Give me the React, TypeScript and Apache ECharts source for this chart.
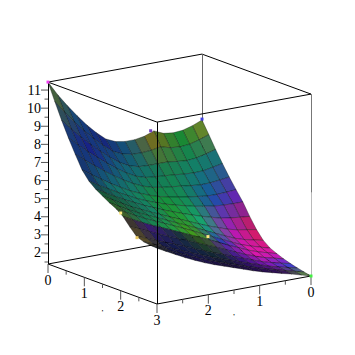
import React, { useEffect, useRef } from "react";
import * as echarts from "echarts";

// Surface heights z(a, b): one row per a = k*3/16, one value per b = l*3/16
const rowA00 = [7.8,7.58,7.43,7.38,7.45,7.68,7.48,7.39,7.39,7.48,7.72,8.17,8.7,9.3,9.95,10.65,11.44];
const rowA01 = [7.13,6.94,6.79,6.74,6.79,6.94,6.84,6.8,6.81,6.93,7.18,7.6,8.09,8.62,9.2,9.82,10.5];
const rowA02 = [6.45,6.3,6.17,6.12,6.17,6.24,6.24,6.24,6.27,6.42,6.7,7.08,7.52,7.99,8.49,9.03,9.6];
const rowA03 = [5.81,5.7,5.6,5.58,5.61,5.67,5.71,5.75,5.81,5.98,6.26,6.6,6.99,7.4,7.83,8.29,8.77];
const rowA04 = [5.2,5.13,5.07,5.06,5.11,5.18,5.24,5.31,5.4,5.57,5.81,6.1,6.44,6.8,7.18,7.58,8];
const rowA05 = [4.64,4.6,4.57,4.58,4.65,4.72,4.81,4.91,5.03,5.2,5.41,5.64,5.93,6.23,6.57,6.92,7.28];
const rowA06 = [4.1,4.1,4.12,4.16,4.25,4.34,4.47,4.6,4.75,4.93,5.13,5.35,5.62,5.89,6.18,6.48,6.8];
const rowA07 = [3.44,3.49,3.55,3.63,3.78,3.93,4.1,4.28,4.47,4.67,4.89,5.11,5.37,5.62,5.9,6.19,6.49];
const rowA08 = [2.85,2.94,3.03,3.16,3.35,3.53,3.75,3.97,4.2,4.42,4.65,4.88,5.12,5.36,5.65,5.95,6.25];
const rowA09 = [2.39,2.51,2.63,2.8,3.03,3.27,3.51,3.76,4,4.23,4.47,4.7,4.94,5.17,5.43,5.72,6.02];
const rowA10 = [2.1,2.25,2.41,2.58,2.82,3.07,3.32,3.57,3.82,4.06,4.3,4.53,4.76,4.99,5.25,5.53,5.82];
const rowA11 = [1.93,2.08,2.23,2.42,2.65,2.88,3.13,3.37,3.61,3.84,4.08,4.31,4.54,4.76,5.01,5.27,5.54];
const rowA12 = [1.78,1.92,2.05,2.22,2.42,2.64,2.87,3.1,3.32,3.54,3.76,3.98,4.19,4.41,4.65,4.89,5.1];
const rowA13 = [1.66,1.78,1.91,2.06,2.25,2.45,2.64,2.84,3.04,3.25,3.46,3.67,3.88,4.09,4.3,4.52,4.71];
const rowA14 = [1.56,1.68,1.81,1.95,2.13,2.3,2.48,2.67,2.85,3.05,3.25,3.46,3.68,3.89,4.11,4.33,4.56];
const rowA15 = [1.47,1.61,1.75,1.89,2.04,2.19,2.36,2.54,2.72,2.91,3.1,3.32,3.54,3.77,4.01,4.26,4.5];
const rowA16 = [1.39,1.54,1.69,1.82,1.96,2.1,2.26,2.44,2.62,2.8,2.98,3.18,3.41,3.65,3.92,4.19,4.47];
const zGrid = [rowA00,rowA01,rowA02,rowA03,rowA04,rowA05,rowA06,rowA07,rowA08,rowA09,rowA10,rowA11,rowA12,rowA13,rowA14,rowA15,rowA16];
const CELLS = 16;
const STEP = 3 / CELLS;

const aTicks = [0, 1, 2, 3];
const bTicks = [0, 1, 2];
const zTicks = [2, 3, 4, 5, 6, 7, 8, 9, 10, 11];
const aMinor = [0.5, 1.5, 2.5];
const bMinor = [0.5, 1.5, 2.5];
const zMinor = [1.5, 2.5, 3.5, 4.5, 5.5, 6.5, 7.5, 8.5, 9.5, 10.5];
const Z_MIN = 1.39;
const Z_MAX = 11.44;

// Surface shading, sampled on a coarse (a, b) lattice
const shadeA = [0, 0.5, 1, 1.5, 2, 2.125, 2.5, 3];
const shadeB = [0, 0.5, 1, 1.5, 2, 2.5, 3];
const shadeTable = [
  ["#8a8a14","#148a28","#8a6a10","#14527a","#16187c","#144f78","#5a7020"],
  ["#146c80","#12806a","#148050","#127068","#145c7c","#181e88","#163c78"],
  ["#6a20b8","#1650a8","#148a58","#169038","#148060","#126e70","#162a6c"],
  ["#d81c4c","#b018b8","#18a878","#269a24","#148068","#186040","#166028"],
  ["#d818a8","#e018a8","#3030c0","#4a9a14","#209a40","#147a58","#4a5a20"],
  ["#c818b8","#e018a8","#6024b0","#34601a","#1a3040","#3a1a78","#3a3a20"],
  ["#3040d8","#8a18c0","#3a1480","#102a30","#14204a","#141a50","#6a5a20"],
  ["#70a830","#201040","#200c40","#1c0c3a","#20104a","#141240","#14222e"],
];

const markers = [
  { a: 0, b: 3, z: 11.44, color: "#f040f0" },
  { a: 0, b: 1, z: 7.72, color: "#7040c0" },
  { a: 0, b: 0, z: 7.85, color: "#4040e0" },
  { a: 3, b: 0, z: 1.39, color: "#40f040" },
  { a: 2, b: 3, z: 5.68, color: "#ffe880" },
  { a: 2.45, b: 3, z: 4.65, color: "#e8c860" },
  { a: 2, b: 1.3, z: 3.5, color: "#ffe880" },
];

const project = (a: number, b: number, z: number) => [
  202 + (109 / 3) * a - (154 / 3) * b,
  236 + (40 / 3) * a + (28 / 3) * b - 18.1 * (z - Z_MIN),
];

const hex = (s: string) => [1, 3, 5].map((k) => parseInt(s.slice(k, k + 2), 16));
const seg = (arr: number[], v: number) => {
  let k = 0;
  while (k < arr.length - 2 && v > arr[k + 1]) k++;
  return [k, Math.min(1, Math.max(0, (v - arr[k]) / (arr[k + 1] - arr[k])))];
};
const shade = (a: number, b: number) => {
  const [i, t] = seg(shadeA, a);
  const [j, u] = seg(shadeB, b);
  const c00 = hex(shadeTable[i][j]), c01 = hex(shadeTable[i][j + 1]);
  const c10 = hex(shadeTable[i + 1][j]), c11 = hex(shadeTable[i + 1][j + 1]);
  const c = c00.map((v, k) =>
    Math.round(v * (1 - t) * (1 - u) + c01[k] * (1 - t) * u + c10[k] * t * (1 - u) + c11[k] * t * u)
  );
  return `rgb(${c[0]},${c[1]},${c[2]})`;
};

type Seg = [number, number, number, number, number, number, string, number];
const backEdges: Seg[] = [
  [0, 3, Z_MIN, 0, 0, Z_MIN, "#000", 1],
  [0, 0, Z_MIN, 3, 0, Z_MIN, "#000", 1],
  [0, 3, Z_MAX, 0, 0, Z_MAX, "#000", 1],
  [0, 0, Z_MAX, 3, 0, Z_MAX, "#000", 1],
  [0, 0, Z_MIN, 0, 0, Z_MAX, "#666", 1],
];
const frontEdges: Seg[] = [
  [0, 3, Z_MAX, 3, 3, Z_MAX, "#000", 1],
  [3, 3, Z_MAX, 3, 0, Z_MAX, "#000", 1],
  [0, 3, Z_MIN, 0, 3, Z_MAX, "#000", 1],
  [3, 3, Z_MIN, 3, 3, Z_MAX, "#000", 1],
  [3, 0, Z_MIN, 3, 0, 6, "#bbb", 1],
  [3, 0, 6, 3, 0, Z_MAX, "#777", 1],
  [0, 3, Z_MIN, 3, 3, Z_MIN, "#000", 1],
  [3, 3, Z_MIN, 3, 0, Z_MIN, "#000", 1],
];

const cells: number[][] = [];
for (let s = 0; s <= 2 * CELLS - 2; s++) {
  for (let i = 0; i < CELLS; i++) {
    const j = s - i;
    if (j >= 0 && j < CELLS) cells.push([i, j]);
  }
}

const lineSeries = (name: string, data: Seg[]) => ({
  type: "custom",
  name,
  coordinateSystem: "cartesian2d",
  silent: true,
  clip: false,
  data: data.map((_, k) => [k]),
  renderItem: (p: any, api: any) => {
    const s = data[p.dataIndex];
    const p1 = api.coord(project(s[0], s[1], s[2]));
    const p2 = api.coord(project(s[3], s[4], s[5]));
    const off = Math.abs(p1[0] - p2[0]) < 0.01 ? 0.5 : 0;
    return {
      type: "line",
      shape: { x1: p1[0] + off, y1: p1[1], x2: p2[0] + off, y2: p2[1] },
      style: { stroke: s[6], lineWidth: s[7] },
    };
  },
});

type Tick = { a: number; b: number; z: number; dx: number; dy: number };
const ticks: Tick[] = [
  ...aTicks.map((v) => ({ a: v, b: 3, z: Z_MIN, dx: 0, dy: 9 })),
  ...aMinor.map((v) => ({ a: v, b: 3, z: Z_MIN, dx: 0, dy: 4 })),
  ...bTicks.map((v) => ({ a: 3, b: v, z: Z_MIN, dx: 0, dy: 9 })),
  ...bMinor.map((v) => ({ a: 3, b: v, z: Z_MIN, dx: 0, dy: 4 })),
  ...zTicks.map((v) => ({ a: 0, b: 3, z: v, dx: -7, dy: 0 })),
  ...zMinor.map((v) => ({ a: 0, b: 3, z: v, dx: -3.5, dy: 0 })),
];

type Label = { t: string; a: number; b: number; z: number; dx: number; dy: number; align: string; size: number };
const labels: Label[] = [
  ...aTicks.map((v) => ({ t: String(v), a: v, b: 3, z: Z_MIN, dx: 0, dy: 16, align: "center", size: 14 })),
  ...bTicks.map((v) => ({ t: String(v), a: 3, b: v, z: Z_MIN, dx: 0, dy: 16, align: "center", size: 14 })),
  ...zTicks.map((v) => ({ t: String(v), a: 0, b: 3, z: v, dx: -7, dy: 0, align: "right", size: 14 })),
  { t: ",", a: 1.5, b: 3, z: Z_MIN, dx: 0, dy: 24, align: "center", size: 8 },
  { t: ",", a: 3, b: 1.5, z: Z_MIN, dx: 0, dy: 22, align: "center", size: 8 },
];

export default function App() {
  const ref = useRef<HTMLDivElement>(null);
  useEffect(() => {
    const chart = echarts.init(ref.current!, undefined, { renderer: "svg" });
    chart.setOption({
      animation: false,
      backgroundColor: "#fff",
      grid: { left: 0, right: 0, top: 0, bottom: 0 },
      xAxis: { type: "value", min: 0, max: 355, show: false },
      yAxis: { type: "value", min: 0, max: 355, inverse: true, show: false },
      series: [
        lineSeries("back box", backEdges),
        {
          type: "custom",
          name: "surface",
          coordinateSystem: "cartesian2d",
          silent: true,
          clip: false,
          data: cells,
          renderItem: (p: any, api: any) => {
            const [i, j] = cells[p.dataIndex];
            const corners = [[i, j], [i + 1, j], [i + 1, j + 1], [i, j + 1]].map(([u, v]) =>
              api.coord(project(u * STEP, v * STEP, zGrid[u][v]))
            );
            return {
              type: "polygon",
              shape: { points: corners },
              style: { fill: shade((i + 0.5) * STEP, (j + 0.5) * STEP), stroke: "rgba(0,0,0,0.55)", lineWidth: 0.6 },
            };
          },
        },
        lineSeries("front box", frontEdges),
        {
          type: "custom",
          name: "ticks",
          coordinateSystem: "cartesian2d",
          silent: true,
          clip: false,
          data: ticks.map((_, k) => [k]),
          renderItem: (p: any, api: any) => {
            const t = ticks[p.dataIndex];
            const c = api.coord(project(t.a, t.b, t.z));
            return {
              type: "line",
              shape: { x1: c[0], y1: c[1], x2: c[0] + t.dx, y2: c[1] + t.dy },
              style: { stroke: "#555", lineWidth: 1 },
            };
          },
        },
        {
          type: "custom",
          name: "markers",
          coordinateSystem: "cartesian2d",
          silent: true,
          clip: false,
          data: markers.map((_, k) => [k]),
          renderItem: (p: any, api: any) => {
            const m = markers[p.dataIndex];
            const c = api.coord(project(m.a, m.b, m.z));
            return {
              type: "rect",
              shape: { x: c[0] - 1.5, y: c[1] - 1.5, width: 3, height: 3 },
              style: { fill: m.color },
            };
          },
        },
        {
          type: "custom",
          name: "labels",
          coordinateSystem: "cartesian2d",
          silent: true,
          clip: false,
          data: labels.map((_, k) => [k]),
          renderItem: (p: any, api: any) => {
            const l = labels[p.dataIndex];
            const c = api.coord(project(l.a, l.b, l.z));
            return {
              type: "text",
              x: c[0] + l.dx,
              y: c[1] + l.dy,
              style: {
                text: l.t,
                fill: "#000",
                font: `${l.size}px "Liberation Serif"`,
                align: l.align,
                verticalAlign: "middle",
              },
            };
          },
        },
      ],
    });
    return () => chart.dispose();
  }, []);
  return <div ref={ref} style={{ position: "fixed", left: 0, top: 0, width: 355, height: 355 }} />;
}
